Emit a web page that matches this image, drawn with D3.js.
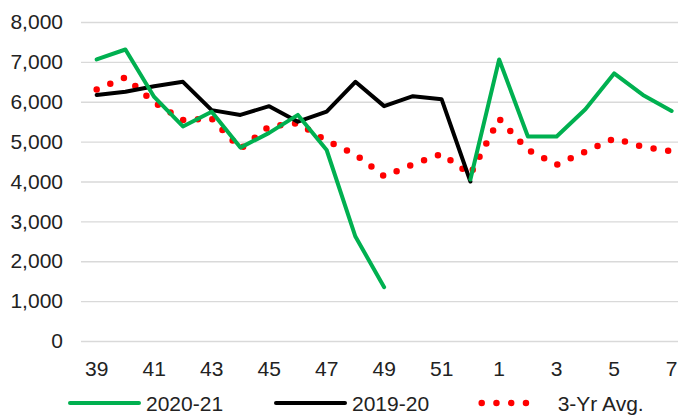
<!DOCTYPE html>
<html>
<head>
<meta charset="utf-8">
<script src="https://cdn.jsdelivr.net/npm/d3@7"></script>
<style>
  body { margin: 0; background: #fff; }
  svg { font-family: "Liberation Sans", Arial, sans-serif; }
</style>
</head>
<body>
<svg width="678" height="415"></svg>
<script>
// week numbers, season runs from week 39 to week 7
var weeks = ["39","40","41","42","43","44","45","46","47","48","49","50","51","52","1","2","3","4","5","6","7"];
var tickWeeks = ["39","41","43","45","47","49","51","1","3","5","7"];
var yTicks = [0,1000,2000,3000,4000,5000,6000,7000,8000];

var s2020 = [7060,7310,6120,5380,5750,4850,5220,5670,4790,2620,1350,null,null,4050,7060,5130,5130,5810,6710,6170,5770];
var s2019 = [6170,6250,6390,6500,5790,5670,5890,5500,5750,6500,5890,6140,6060,4000,null,null,null,null,null,null,null];
var avg3 = [6310,6610,5980,5540,5580,4820,5380,5460,5020,4680,4130,4430,4690,4180,5570,4790,4420,4750,5080,4870,4760];

var width = 678, height = 415;
var margin = {left: 81, top: 22, bottom: 341};

var svg = d3.select("svg");

var x = d3.scaleBand().domain(weeks).range([82.3, 686]).padding(0);
var y = d3.scaleLinear().domain([0, 8000]).range([margin.bottom, margin.top]);

function cx(d, i) { return x(weeks[i]) + x.bandwidth() / 2; }

// gridlines + y labels
var yAxis = d3.axisLeft(y).tickValues(yTicks).tickFormat(d3.format(",")).tickSize(-(width - margin.left + 10)).tickPadding(18);
var gy = svg.append("g").attr("transform", "translate(" + margin.left + ",0)").call(yAxis);
gy.select(".domain").remove();
gy.selectAll("line").attr("stroke", "#d9d9d9").attr("stroke-width", 1.3);
gy.selectAll("text").attr("font-size", "21px").attr("fill", "#222");

// x labels
var xAxis = d3.axisBottom(x).tickValues(tickWeeks).tickSize(0).tickPadding(20);
var gx = svg.append("g").attr("transform", "translate(0," + margin.bottom + ")").call(xAxis);
gx.select(".domain").remove();
gx.selectAll("text").attr("font-size", "21px").attr("fill", "#222");

var line = d3.line()
  .defined(function(d) { return d != null; })
  .x(cx)
  .y(function(d) { return y(d); });

svg.append("path").datum(avg3)
  .attr("d", line)
  .attr("fill", "none")
  .attr("stroke", "#ff0000")
  .attr("stroke-width", 6.5)
  .attr("stroke-linecap", "round")
  .attr("stroke-dasharray", "0,14.75");

svg.append("path").datum(s2019)
  .attr("d", line)
  .attr("fill", "none")
  .attr("stroke", "#000")
  .attr("stroke-width", 4)
  .attr("stroke-linejoin", "round")
  .attr("stroke-linecap", "round");

svg.append("path").datum(s2020)
  .attr("d", line)
  .attr("fill", "none")
  .attr("stroke", "#00b050")
  .attr("stroke-width", 4)
  .attr("stroke-linejoin", "round")
  .attr("stroke-linecap", "round");

// legend
var legend = [
  {name: "2020-21", color: "#00b050", x1: 70, x2: 139, dash: null, w: 4},
  {name: "2019-20", color: "#000", x1: 276, x2: 345, dash: null, w: 4},
  {name: "3-Yr Avg.", color: "#ff0000", x1: 481.7, x2: 540.7, dash: "0,14.75", w: 6.5}
];
var lg = svg.append("g");
legend.forEach(function(l) {
  lg.append("line")
    .attr("x1", l.x1).attr("x2", l.x2)
    .attr("y1", 403).attr("y2", 403)
    .attr("stroke", l.color)
    .attr("stroke-width", l.w)
    .attr("stroke-linecap", "round")
    .attr("stroke-dasharray", l.dash);
  lg.append("text")
    .attr("x", l.x2 + 7 + (l.dash ? 10 : 0))
    .attr("y", 411)
    .attr("font-size", "21px")
    .attr("fill", "#222")
    .text(l.name);
});
</script>
</body>
</html>
